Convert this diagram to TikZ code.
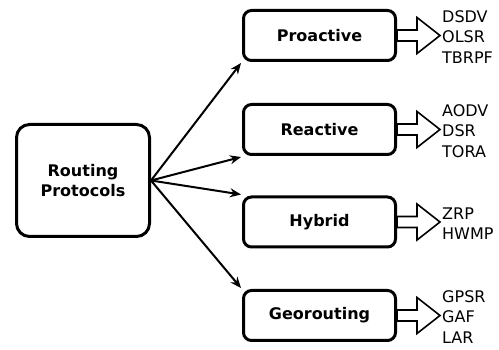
\documentclass[tikz,border=0pt]{standalone}
\usepackage{fontspec}
\setmainfont{DejaVu Sans}
\usetikzlibrary{arrows.meta,calc}
\begin{document}
\begin{tikzpicture}[x=1pt,y=-1pt,
  rootbox/.style={draw,line width=3pt,rounded corners=13pt,minimum width=133pt,minimum height=112pt,
    align=center,inner sep=0pt,font=\fontsize{16}{20}\selectfont\bfseries},
  classbox/.style={draw,line width=3pt,rounded corners=8pt,minimum width=152pt,minimum height=50pt,
    inner sep=0pt,font=\fontsize{16}{20}\selectfont\bfseries},
  link/.style={line width=2pt,-{Stealth[length=11pt,width=9pt]}},
  hollow/.style={draw,line width=1.6pt,fill=white,line join=miter},
  protolist/.style={anchor=west,align=left,inner sep=0pt,font=\fontsize{16}{20.5}\selectfont}
]
\useasboundingbox (0,0) rectangle (499,350);

% root and the four protocol classes
\node[rootbox] (root) at (83,180.5) {Routing\\Protocols};
\node[classbox] (pro) at (319.5,35.5)  {Proactive};
\node[classbox] (rea) at (319.5,129.5) {Reactive};
\node[classbox] (hyb) at (319.5,222)   {Hybrid};
\node[classbox] (geo) at (319.5,315.5) {Georouting};

% connectors from the root to the classes
\draw[link] (root.east) -- ($(pro.south west)+(-1,1)$);
\draw[link] (root.east) -- ($(rea.south west)+(-1,1)$);
\draw[link] (root.east) -- ($(hyb.north west)+(-1,-1)$);
\draw[link] (root.east) -- ($(geo.north west)+(-1,-1)$);

% hollow block arrows with the example protocols
\foreach \b/\txt in {pro/{DSDV\\OLSR\\TBRPF},rea/{AODV\\DSR\\TORA},hyb/{ZRP\\HWMP},geo/{GPSR\\GAF\\LAR}}{
  \draw[hollow] ($(\b.east)+(0,-5.5)$) -- ($(\b.east)+(20,-5.5)$) -- ($(\b.east)+(20,-18)$)
     -- ($(\b.east)+(43,0)$) -- ($(\b.east)+(20,18)$) -- ($(\b.east)+(20,5.5)$)
     -- ($(\b.east)+(0,5.5)$) -- cycle;
  \node[protolist] (\b list) at ($(\b.east)+(45,1.5)$) {\txt};
}
\end{tikzpicture}
\end{document}
